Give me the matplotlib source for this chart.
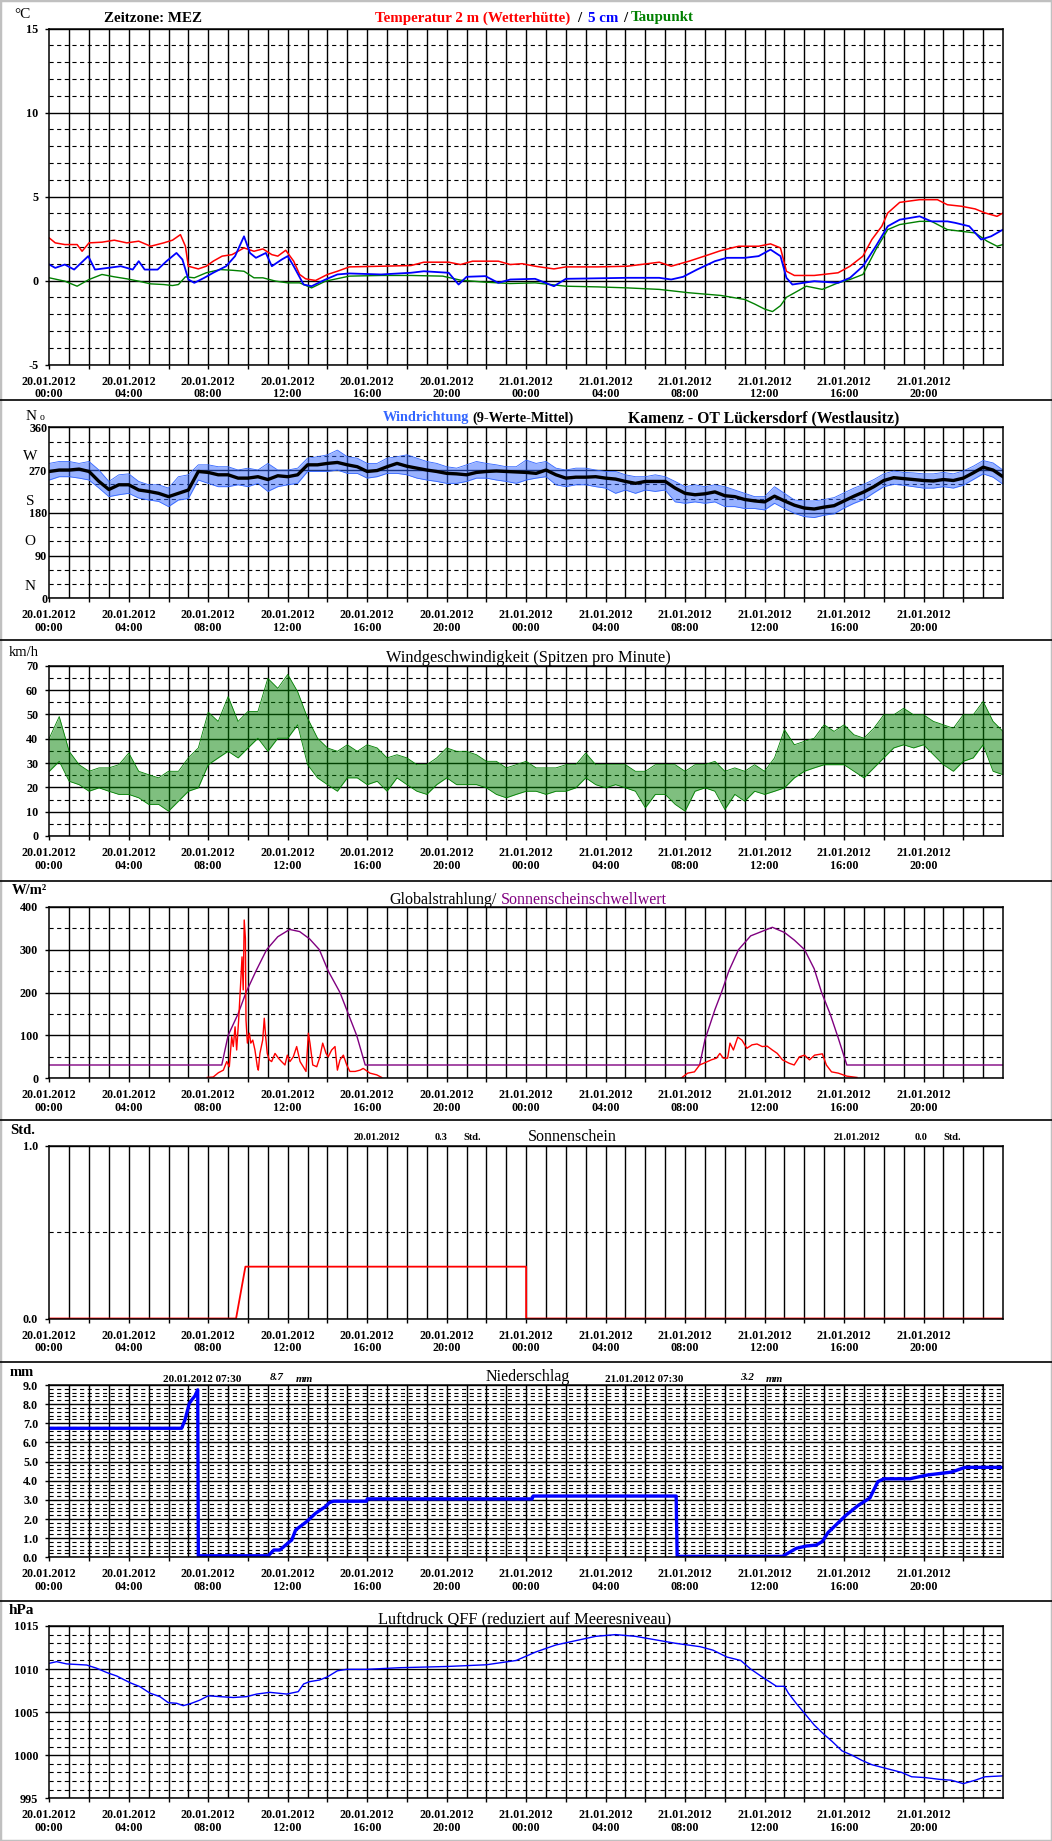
import numpy as np
import matplotlib.pyplot as plt
from matplotlib.lines import Line2D
from matplotlib.patches import Rectangle

plt.rcParams['font.family'] = ['Liberation Serif', 'DejaVu Serif']
plt.rcParams['lines.scale_dashes'] = False

W, H = 1052, 1841
X0, X1 = 49.3, 1003.0

# ---------------- data ----------------
x_labels = ['20.01.2012\n00:00', '20.01.2012\n04:00', '20.01.2012\n08:00',
            '20.01.2012\n12:00', '20.01.2012\n16:00', '20.01.2012\n20:00',
            '21.01.2012\n00:00', '21.01.2012\n04:00', '21.01.2012\n08:00',
            '21.01.2012\n12:00', '21.01.2012\n16:00', '21.01.2012\n20:00']

hours_half = np.arange(0, 48.01, 0.5)

# temperature 2 m / 5 cm / dew point
t_red = [0, 0.3, 0.78, 1.4, 1.65, 2.0, 2.65, 3.27, 3.9, 4.5, 5.1, 5.76, 6.2, 6.6, 6.85,
         7.0, 7.5, 7.9, 8.25, 8.7, 9.2, 9.8, 10.3, 10.75, 11.2, 11.5, 11.9, 12.3, 12.6, 12.9,
         13.4, 14.0, 14.5, 15.1, 16.7, 18.2, 18.85, 20.1, 20.7, 21.3, 21.95, 22.6, 23.2, 23.8,
         24.45, 25.4, 26.0, 27.6, 29.1, 30.7, 31.3, 32.2, 33.2, 33.8, 34.7, 35.7, 36.3, 36.8,
         37.1, 37.5, 38.5, 39.7, 40.3, 40.95, 41.4, 41.9, 42.2, 42.8, 43.8, 44.7, 45.2, 45.9,
         46.6, 47.1, 47.7, 48.0]
temp_2m = [2.53, 2.24, 2.14, 2.14, 1.74, 2.24, 2.28, 2.4, 2.24, 2.34, 2.04, 2.24, 2.4, 2.73, 2.04,
           0.85, 0.69, 0.85, 1.15, 1.45, 1.54, 1.94, 1.74, 1.88, 1.54, 1.45, 1.8, 1.15, 0.36, 0.1,
           0.0, 0.36, 0.55, 0.81, 0.85, 0.89, 1.09, 1.09, 0.95, 1.15, 1.15, 1.15, 0.95, 1.0,
           0.85, 0.69, 0.81, 0.81, 0.85, 1.09, 0.85, 1.15, 1.54, 1.78, 2.04, 2.04, 2.18, 1.94,
           0.55, 0.3, 0.3, 0.46, 0.85, 1.45, 2.44, 3.23, 4.02, 4.65, 4.81, 4.81, 4.51, 4.42,
           4.26, 4.02, 3.82, 4.02]

t_blue = [0, 0.3, 0.78, 1.25, 1.96, 2.3, 2.95, 3.6, 4.2, 4.5, 4.8, 5.45, 5.9, 6.4, 6.7,
          7.0, 7.3, 7.8, 8.25, 8.9, 9.35, 9.8, 10.1, 10.4, 10.9, 11.2, 11.7, 12.0, 12.3, 12.8,
          13.2, 13.9, 14.5, 15.1, 16.7, 18.2, 18.85, 20.1, 20.6, 21.0, 21.95, 22.6, 23.2, 24.45,
          25.4, 26.0, 29.1, 30.7, 31.3, 31.9, 32.6, 33.5, 34.1, 35.0, 35.7, 36.3, 36.8, 37.1,
          37.4, 38.5, 39.7, 40.3, 40.95, 41.6, 42.2, 42.8, 43.8, 44.4, 45.2, 45.6, 46.3, 46.9,
          47.4, 48.0]
temp_5cm = [0.95, 0.75, 0.95, 0.65, 1.45, 0.65, 0.75, 0.85, 0.65, 1.15, 0.65, 0.65, 1.15, 1.64, 1.25,
            0.06, -0.14, 0.16, 0.46, 0.85, 1.45, 2.63, 1.64, 1.35, 1.64, 0.85, 1.25, 1.45, 0.85, -0.24,
            -0.34, 0.06, 0.36, 0.42, 0.36, 0.46, 0.55, 0.46, -0.24, 0.22, 0.26, -0.14, 0.06, 0.1,
            -0.34, 0.1, 0.16, 0.16, 0.06, 0.22, 0.65, 1.15, 1.35, 1.35, 1.45, 1.84, 1.45, 0.16,
            -0.24, -0.04, -0.14, 0.16, 0.85, 2.04, 3.23, 3.62, 3.82, 3.52, 3.52, 3.43, 3.23, 2.44,
            2.63, 3.03]

t_green = [0, 0.78, 1.4, 2.0, 2.65, 3.27, 3.9, 4.5, 5.1, 5.76, 6.2, 6.5, 6.85, 7.3, 7.9,
           8.6, 9.2, 9.8, 10.3, 10.75, 11.4, 12.0, 12.6, 13.2, 13.9, 15.1, 16.7, 18.2, 19.8, 20.7,
           21.95, 23.2, 24.45, 26.0, 27.6, 29.1, 30.7, 32.2, 33.8, 35.0, 35.5, 36.0, 36.4, 36.8,
           37.1, 38.1, 38.9, 39.7, 40.3, 40.95, 41.6, 42.2, 42.8, 43.8, 44.4, 45.2, 45.9, 46.6,
           47.2, 47.7, 48.0]
dewpoint = [0.16, -0.04, -0.34, 0.06, 0.36, 0.22, 0.1, -0.04, -0.2, -0.24, -0.3, -0.24, 0.22, 0.16, 0.46,
            0.65, 0.61, 0.55, 0.16, 0.16, -0.04, -0.14, -0.14, -0.44, -0.04, 0.26, 0.3, 0.3, 0.26, 0.02,
            -0.1, -0.18, -0.14, -0.34, -0.38, -0.44, -0.53, -0.73, -0.89, -1.13, -1.4, -1.7, -1.85, -1.5,
            -1.0, -0.34, -0.53, -0.14, 0.06, 0.36, 1.84, 3.03, 3.33, 3.52, 3.52, 3.03, 2.93, 2.83,
            2.34, 2.04, 2.14]

# wind direction (half-hourly): 9-value mean, raw band high / low
wdir_mean = [267, 270, 270, 272, 267, 246, 229, 239, 239, 228,
             225, 221, 214, 221, 228, 267, 265, 260, 260, 253,
             253, 256, 250, 258, 256, 260, 281, 281, 284, 286,
             281, 277, 267, 269, 277, 284, 278, 274, 270, 267,
             263, 262, 260, 265, 267, 268, 267, 266, 265, 263,
             270, 260, 253, 255, 255, 256, 253, 251, 246, 242,
             246, 246, 246, 232, 221, 218, 220, 224, 216, 214,
             208, 205, 203, 215, 205, 196, 190, 188, 192, 195,
             205, 215, 224, 235, 248, 254, 252, 250, 248, 247,
             250, 248, 253, 264, 276, 270, 256]
wdir_hi = [284, 288, 288, 284, 288, 270, 246, 260, 262, 246,
           239, 239, 232, 256, 260, 281, 281, 277, 277, 270,
           274, 270, 284, 270, 270, 274, 295, 298, 302, 312,
           298, 295, 284, 284, 295, 298, 302, 295, 288, 284,
           277, 274, 281, 288, 284, 281, 277, 277, 291, 284,
           288, 274, 270, 274, 274, 270, 267, 267, 260, 256,
           256, 260, 256, 246, 235, 239, 235, 239, 235, 228,
           221, 214, 214, 235, 221, 207, 205, 205, 208, 212,
           222, 232, 240, 250, 262, 268, 265, 264, 262, 262,
           265, 262, 268, 278, 290, 285, 270]
wdir_lo = [249, 256, 256, 253, 249, 232, 214, 218, 221, 211,
           207, 204, 193, 207, 210, 249, 242, 235, 235, 239,
           235, 242, 225, 235, 239, 242, 267, 267, 267, 270,
           263, 263, 253, 256, 263, 263, 260, 253, 249, 246,
           242, 242, 246, 253, 253, 249, 246, 242, 249, 253,
           256, 239, 235, 239, 239, 235, 232, 221, 228, 221,
           228, 225, 228, 203, 200, 203, 200, 203, 193, 193,
           189, 189, 186, 200, 189, 179, 172, 170, 175, 178,
           190, 200, 208, 222, 235, 240, 238, 235, 232, 232,
           235, 232, 238, 250, 262, 255, 240]

# wind speed gusts (half-hourly band high / low, km/h)
wspd_hi = [40.2, 49.1, 34.8, 29.3, 26.6, 28.0, 28.0, 29.3, 34.1, 26.6,
           25.2, 23.9, 26.6, 26.6, 32.1, 36.2, 50.9, 47.1, 57.3, 47.1,
           51.2, 51.2, 64.8, 60.7, 66.4, 59.3, 48.4, 40.2, 36.2, 34.8,
           37.5, 34.8, 37.5, 36.2, 32.1, 33.4, 32.1, 29.3, 29.3, 32.1,
           36.2, 34.8, 34.8, 33.4, 30.7, 30.7, 28.0, 29.3, 30.7, 28.0,
           28.0, 28.0, 29.3, 29.3, 34.1, 29.3, 29.3, 29.3, 29.3, 26.6,
           26.6, 29.3, 29.3, 29.3, 26.6, 29.3, 29.3, 30.7, 26.6, 28.0,
           26.6, 29.3, 26.6, 32.1, 43.7, 37.5, 38.9, 40.2, 45.7, 43.0,
           45.7, 41.6, 40.2, 44.3, 49.8, 49.8, 52.5, 49.8, 49.8, 47.1,
           45.7, 44.3, 49.8, 49.8, 55.3, 47.1, 43.0]
wspd_lo = [26.6, 30.7, 22.5, 21.1, 18.4, 19.8, 18.4, 17.1, 17.1, 15.7,
           13.0, 13.0, 10.2, 14.3, 18.4, 19.8, 29.3, 32.1, 34.8, 32.1,
           36.2, 40.2, 34.8, 40.2, 40.2, 45.7, 29.3, 23.9, 21.1, 18.4,
           23.9, 23.9, 21.1, 22.5, 18.4, 23.9, 21.1, 18.4, 17.1, 21.1,
           23.9, 21.1, 21.1, 21.1, 19.8, 17.1, 15.7, 17.1, 18.4, 18.4,
           17.1, 18.4, 18.4, 19.8, 23.9, 21.1, 19.8, 21.1, 19.8, 18.4,
           11.6, 17.1, 17.1, 13.0, 10.2, 18.4, 19.8, 18.4, 10.9, 17.1,
           14.3, 18.4, 17.1, 18.4, 19.8, 23.9, 26.6, 28.0, 29.3, 29.3,
           29.3, 26.6, 23.9, 28.0, 32.1, 36.2, 37.5, 36.2, 37.5, 33.4,
           29.3, 26.6, 30.7, 32.1, 37.5, 26.6, 25.2]

# global radiation (W/m2) and sunshine threshold
t_rad1 = [7.95, 8.25, 8.51, 8.76, 8.93, 9.06, 9.18, 9.26, 9.35, 9.43, 9.53, 9.63, 9.70, 9.76, 9.81,
          9.87, 9.90, 9.97, 10.07, 10.14, 10.24, 10.35, 10.47, 10.52, 10.60, 10.74, 10.82, 10.89,
          10.97, 11.07, 11.19, 11.36, 11.53, 11.69, 11.86, 11.98, 12.11, 12.28, 12.45, 12.62,
          12.78, 12.92, 13.04, 13.12, 13.26, 13.46, 13.62, 13.76, 13.93, 14.04, 14.21, 14.38,
          14.50, 14.63, 14.80, 14.97, 15.13, 15.39, 15.64, 15.80, 16.14, 16.48, 16.73]
rad1 = [2, 3, 13, 19, 39, 27, 97, 74, 120, 66, 136, 221, 283, 206, 369,
        326, 136, 82, 105, 82, 89, 66, 27, 19, 58, 89, 140, 97,
        58, 43, 39, 58, 47, 39, 31, 54, 39, 50, 74, 39,
        27, 16, 105, 82, 31, 27, 50, 82, 58, 50, 66, 74,
        19, 43, 54, 31, 16, 16, 19, 23, 12, 8, 2]
t_rad2 = [31.79, 32.13, 32.47, 32.73, 32.98, 33.32, 33.58, 33.75, 33.92, 34.14, 34.26, 34.43,
          34.65, 34.86, 35.11, 35.37, 35.62, 35.88, 36.13, 36.39, 36.64, 36.90, 37.24, 37.49,
          37.75, 38.01, 38.26, 38.52, 38.91, 39.11, 39.37, 39.71, 40.14, 40.65]
rad2 = [0, 12, 15, 31, 36, 43, 47, 58, 47, 47, 82, 66,
        96, 89, 70, 78, 80, 74, 75, 66, 58, 43, 35, 31,
        50, 54, 43, 54, 57, 31, 15, 12, 5, 2]
t_thresh = [0, 8.68, 9.0, 9.5, 9.9, 10.4, 10.94, 11.5, 12.1, 12.6, 13.1, 13.59, 14.04, 14.63,
            15.05, 15.47, 15.9, 32.73, 33.0, 33.5, 33.83, 34.2, 34.69, 35.3, 36.39, 37.0, 37.5,
            38.01, 38.5, 38.87, 39.3, 39.7, 40.14, 48.0]
thresh = [31, 31, 100, 150, 200, 250, 300, 330, 347, 342, 325, 300, 250, 200,
          150, 100, 31, 31, 90, 160, 200, 250, 300, 332, 352, 340, 322,
          300, 255, 200, 150, 95, 31, 31]

# sunshine duration (h)
t_sun = [0, 9.4, 9.87, 24.0, 24.0, 48.0]
sun = [0, 0, 0.3, 0.3, 0, 0]

# precipitation (mm)
t_rain = [0, 6.66, 6.83, 7.05, 7.17, 7.33, 7.47, 7.5, 11.02, 11.3, 11.6, 12.1, 12.2, 12.4, 12.95,
          13.4, 13.6, 13.9, 14.1, 14.3, 15.97, 16.0, 24.3, 24.35, 31.55, 31.6, 36.9, 37.3, 37.6,
          38.1, 38.6, 38.9, 39.2, 40.1, 40.7, 41.3, 41.7, 42.0, 43.3, 44.2, 45.4, 46.1, 48.0]
rain = [6.74, 6.74, 7.18, 8.05, 8.22, 8.43, 8.75, 0.08, 0.08, 0.38, 0.38, 0.82, 0.9, 1.43, 1.86,
        2.3, 2.44, 2.65, 2.86, 2.93, 2.93, 3.05, 3.05, 3.2, 3.2, 0.05, 0.05, 0.29, 0.47,
        0.59, 0.64, 0.82, 1.3, 2.2, 2.7, 3.1, 3.95, 4.1, 4.1, 4.3, 4.45, 4.7, 4.7]

# pressure QFF (hPa)
t_pres = [0, 0.37, 0.87, 1.88, 2.38, 2.89, 3.39, 4.06, 4.56, 5.07, 5.57, 5.99, 6.41, 6.74, 7.16,
          7.58, 8.0, 8.59, 9.26, 9.93, 10.44, 11.1, 11.95, 12.53, 12.8, 13.1, 13.6, 14.0, 14.5,
          14.97, 15.97, 17.65, 20.0, 22.0, 23.5, 24.5, 25.5, 26.5, 27.5, 28.5, 29.5, 30.5, 31.5,
          32.75, 33.4, 34.1, 34.8, 35.3, 36.0, 36.6, 37.0, 37.2, 37.6, 38.0, 38.5, 39.0, 39.4,
          39.9, 40.4, 40.9, 41.4, 41.9, 42.4, 42.9, 43.4, 44.1, 44.8, 45.4, 46.0, 46.6, 47.1, 47.97]
pres = [1010.67, 1010.86, 1010.6, 1010.47, 1010.1, 1009.6, 1009.2, 1008.42, 1007.96, 1007.2,
        1006.8, 1006.1, 1006.03, 1005.75, 1006.03, 1006.4, 1006.9, 1006.8, 1006.7, 1006.8,
        1007.1, 1007.3, 1007.1, 1007.38, 1008.27, 1008.54, 1008.73, 1009.1, 1009.8, 1009.97,
        1009.97, 1010.16, 1010.3, 1010.5, 1011.0, 1012.0, 1012.8, 1013.3, 1013.8, 1014.0,
        1013.8, 1013.4, 1013.0, 1012.6, 1012.2, 1011.4, 1011.0, 1010.0, 1008.9, 1008.0,
        1008.0, 1007.2, 1006.0, 1004.9, 1003.5, 1002.4, 1001.6, 1000.5, 1000.0, 999.4,
        998.9, 998.6, 998.3, 998.0, 997.5, 997.4, 997.2, 997.1, 996.7, 997.1, 997.5, 997.6]

RED, BLUE, GREEN, PURPLE, LBLUE = '#ff0000', '#0000ff', '#008000', '#800080', '#3366ff'

fig = plt.figure(figsize=(W / 100, H / 100), dpi=100)
renderer = fig.canvas.get_renderer()


def ftext(x, y, s, **kw):
    kw.setdefault('va', 'center')
    return fig.text(x / W, 1 - y / H, s, **kw)


def chain(x, y, parts, **kw):
    # parts: (text, colour, gap in px after it)
    for s, c, gap in parts:
        t = ftext(x, y, s, color=c, ha='left', **kw)
        x += t.get_window_extent(renderer=renderer).width + gap


def make_ax(top, bot, ymin, ymax, major, minor, fmt, label_gap=5.0, ylen=3.0):
    ax = fig.add_axes([X0 / W, 1 - bot / H, (X1 - X0) / W, (bot - top) / H])
    ax.set_xlim(0, 48)
    ax.set_ylim(ymin, ymax)
    for h in range(1, 48):
        ax.axvline(h, color='black', lw=1.0, zorder=1)
    if minor:
        for v in np.arange(ymin, ymax + 1e-9, minor):
            if abs(v / major - round(v / major)) > 1e-6:
                ax.axhline(v, color='black', lw=0.8, dashes=(3, 2.5), zorder=1)
    majors = np.arange(ymin, ymax + 1e-9, major)
    for v in majors:
        ax.axhline(v, color='black', lw=1.0, zorder=1)
    ax.set_yticks(majors)
    ax.set_yticklabels([fmt % v for v in majors], fontsize=8.7, fontweight='bold')
    ax.set_xticks(np.arange(0, 48, 2))
    labels = []
    for i in range(24):
        labels.append(x_labels[i // 2] if i % 2 == 0 else '')
    ax.set_xticklabels(labels, fontsize=8.7, fontweight='bold', linespacing=1.05)
    ax.tick_params(axis='x', length=3, width=1, pad=5, direction='out')
    ax.tick_params(axis='y', length=ylen, width=1, pad=label_gap, direction='out')
    for sp in ax.spines.values():
        sp.set_linewidth(1.1)
        sp.set_zorder(5)
    return ax


def band(ax, lo, hi, color, alpha):
    # dense minute values drawn as their half-hourly envelope
    ax.fill_between(hours_half, lo, hi, color=color, alpha=alpha, lw=0, zorder=2)
    ax.plot(hours_half, hi, color=color, lw=0.6, zorder=3)
    ax.plot(hours_half, lo, color=color, lw=0.6, zorder=3)


# panel separators and frame
for y in [400, 640, 880.6, 1120, 1362, 1600.7]:
    fig.add_artist(Line2D([0, 1], [1 - y / H] * 2, color='black', lw=1.2))
fig.add_artist(Rectangle((0, 0), 1, 1, transform=fig.transFigure, fill=False,
                         edgecolor='#c0c0c0', lw=2.5))

# ---- 1: temperature ----
ax = make_ax(28.5, 364.5, -5, 15, 5, 1, '%d')
ax.plot(t_red, temp_2m, color=RED, lw=1.1, zorder=3)
ax.plot(t_green, dewpoint, color=GREEN, lw=1.0, zorder=3)
ax.plot(t_blue, temp_5cm, color=BLUE, lw=1.3, zorder=4)
ftext(14, 14, '°C', fontsize=11)
ftext(104, 18, 'Zeitzone: MEZ', ha='left', fontsize=10.8, fontweight='bold')
chain(375, 18, [('Temperatur 2 m (Wetterhütte)', RED, 7), ('/', 'black', 7),
                ('5 cm', BLUE, 4), ('/', 'black', 4), ('Taupunkt', GREEN, 0)],
      fontsize=10.8, fontweight='bold')

# ---- 2: wind direction ----
ax = make_ax(427.3, 598.3, 0, 360, 90, 30, '%d', label_gap=1.5, ylen=0)
band(ax, wdir_lo, wdir_hi, LBLUE, 0.5)
ax.plot(hours_half, wdir_mean, color='black', lw=2.4, zorder=4)
ftext(31, 417, 'N', ha='center', fontsize=11)
ftext(42, 418, 'o', ha='center', fontsize=7)
for letter, y in [('W', 456.7), ('S', 501.7), ('O', 541.7), ('N', 586.7)]:
    ftext(30, y, letter, ha='center', fontsize=11)
chain(383, 418, [('Windrichtung', LBLUE, 3), ('(9-Werte-Mittel)', 'black', 0)],
      fontsize=10.3, fontweight='bold')
ftext(628, 418, 'Kamenz - OT Lückersdorf (Westlausitz)', ha='left', fontsize=11.3,
      fontweight='bold')

# ---- 3: wind speed ----
ax = make_ax(665.7, 836, 0, 70, 10, 5, '%d')
band(ax, wspd_lo, wspd_hi, GREEN, 0.5)
ftext(9, 653, 'km/h', ha='left', fontsize=10.5)
ftext(528, 658, 'Windgeschwindigkeit (Spitzen pro Minute)', ha='center', fontsize=11.8)

# ---- 4: global radiation ----
ax = make_ax(906.7, 1078.3, 0, 400, 100, 50, '%d')
ax.plot(t_thresh, thresh, color=PURPLE, lw=1.0, zorder=3)
ax.plot(t_rad1, rad1, color=RED, lw=1.0, zorder=4)
ax.plot(t_rad2, rad2, color=RED, lw=1.0, zorder=4)
ftext(12, 891, 'W/m²', ha='left', fontsize=10.5, fontweight='bold')
chain(389, 900, [('Globalstrahlung/', 'black', 4), ('Sonnenscheinschwellwert', PURPLE, 0)],
      fontsize=11.5)

# ---- 5: sunshine ----
ax = make_ax(1145.7, 1318.5, 0, 1, 1, 0.5, '%.1f')
ax.plot(t_sun, sun, color=RED, lw=1.3, zorder=4)
ftext(10, 1131, 'Std.', ha='left', fontsize=10.5, fontweight='bold')
for x, s in [(354, '20.01.2012'), (435, '0.3'), (463, 'Std.'),
             (834, '21.01.2012'), (915, '0.0'), (943, 'Std.')]:
    ftext(x, 1138, s, ha='left', fontsize=7.5, fontweight='bold')
ftext(528, 1137, 'Sonnenschein', ha='left', fontsize=11.5)

# ---- 6: precipitation ----
ax = make_ax(1385, 1557.3, 0, 9, 1, 0.2, '%.1f')
ax.plot(t_rain, rain, color=BLUE, lw=2.4, zorder=4)
ftext(10, 1372, 'mm', ha='left', fontsize=10.5, fontweight='bold')
ftext(163, 1379, '20.01.2012 07:30', ha='left', fontsize=8, fontweight='bold')
ftext(270, 1378, '8.7', ha='left', fontsize=8, fontweight='bold', style='italic')
ftext(296, 1379, 'mm', ha='left', fontsize=8, fontweight='bold', style='italic')
ftext(528, 1377, 'Niederschlag', ha='center', fontsize=11.5)
ftext(605, 1379, '21.01.2012 07:30', ha='left', fontsize=8, fontweight='bold')
ftext(740, 1378, '3.2', ha='left', fontsize=8, fontweight='bold', style='italic')
ftext(766, 1379, 'mm', ha='left', fontsize=8, fontweight='bold', style='italic')

# ---- 7: pressure ----
ax = make_ax(1626, 1798.3, 995, 1015, 5, 1, '%d')
ax.plot(t_pres, pres, color=BLUE, lw=1.0, zorder=4)
ftext(9, 1611, 'hPa', ha='left', fontsize=11, fontweight='bold')
ftext(525, 1619, 'Luftdruck QFF (reduziert auf Meeresniveau)', ha='center', fontsize=11.8)

fig.savefig('out.png', dpi=100)
